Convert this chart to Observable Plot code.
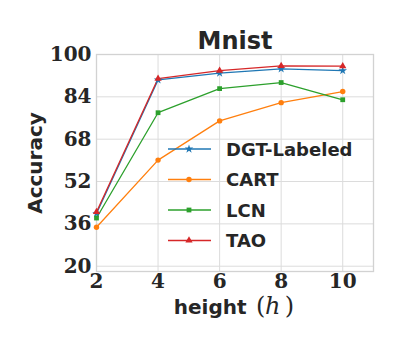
<!DOCTYPE html>
<html><head><meta charset="utf-8">
<script src="https://cdn.jsdelivr.net/npm/d3@7"></script>
<script src="https://cdn.jsdelivr.net/npm/@observablehq/plot@0.6"></script>
<style>
body{margin:0;background:#fff}
#chart{width:400px;height:350px}
</style>
</head><body><div id="chart"></div>
<script>
const heights = [2, 4, 6, 8, 10];
const seriesNames = ["DGT-Labeled", "CART", "LCN", "TAO"];
const dgt  = [39.9, 90.4, 93.0, 94.6, 93.9];
const cart = [34.7, 60.1, 74.9, 81.8, 86.0];
const lcn  = [38.2, 78.0, 87.1, 89.4, 82.9];
const tao  = [40.5, 90.9, 93.9, 95.7, 95.6];
const xTicks = [2, 4, 6, 8, 10];
const yTicks = [20, 36, 52, 68, 84, 100];
const colors = ["#1f77b4", "#ff7f0e", "#2ca02c", "#d62728"];
const symbols = ["star", "circle", "square", "triangle"];
const title = "Mnist";
const yLabel = "Accuracy";
const xLabelWord = "height";
const xLabelVar = "h";

const values = [dgt, cart, lcn, tao];
const data = seriesNames.flatMap((s, i) => heights.map((h, j) => ({series: s, h, acc: values[i][j]})));

const serif = "'DejaVu Serif', 'Liberation Serif', serif";
const sans = "'DejaVu Sans', sans-serif";
const ink = "#262626";

const plot = Plot.plot({
  width: 400, height: 350,
  marginLeft: 96, marginRight: 27, marginTop: 54, marginBottom: 79,
  style: {background: "#fff", color: ink, overflow: "visible"},
  x: {domain: [2, 11], label: null},
  y: {domain: [18, 100], label: null},
  color: {domain: seriesNames, range: colors},
  symbol: {domain: seriesNames, range: symbols},
  marks: [
    Plot.gridX(xTicks, {stroke: "#dcdcdc", strokeOpacity: 1, strokeWidth: 1}),
    Plot.gridY(yTicks, {stroke: "#dcdcdc", strokeOpacity: 1, strokeWidth: 1}),
    Plot.frame({stroke: "#d2d2d2", strokeWidth: 1.3}),
    Plot.axisX(xTicks, {tickSize: 0, tickPadding: 2, fontFamily: serif, fontSize: 20, fontWeight: "bold", fill: ink, label: null}),
    Plot.axisY(yTicks, {tickSize: 0, tickPadding: 5, fontFamily: serif, fontSize: 20, fontWeight: "bold", fill: ink, label: null}),
    Plot.line(data, {x: "h", y: "acc", z: "series", stroke: "series", strokeWidth: 1.3}),
    Plot.dot(data, {x: "h", y: "acc", fill: "series", symbol: "series", r: 2.7, stroke: "none"}),
    Plot.text([title], {frameAnchor: "top", dy: -6, lineAnchor: "bottom", fontFamily: sans, fontSize: 24, fontWeight: "bold", fill: ink}),
    Plot.text([yLabel], {frameAnchor: "left", dx: -61, rotate: -90, textAnchor: "middle", lineAnchor: "middle", fontFamily: sans, fontSize: 20, fontWeight: "bold", fill: ink}),
    Plot.text([xLabelWord], {frameAnchor: "bottom", dx: 11.5, dy: 42, textAnchor: "end", lineAnchor: "bottom", fontFamily: sans, fontSize: 20, fontWeight: "bold", fill: ink}),
    Plot.text(["("], {frameAnchor: "bottom", dx: 21, dy: 42, textAnchor: "start", lineAnchor: "bottom", fontFamily: serif, fontSize: 24, fill: ink}),
    Plot.text([xLabelVar], {frameAnchor: "bottom", dx: 30, dy: 42, textAnchor: "start", lineAnchor: "bottom", fontFamily: serif, fontSize: 24, fontStyle: "italic", fill: ink}),
    Plot.text([")"], {frameAnchor: "bottom", dx: 59, dy: 42, textAnchor: "end", lineAnchor: "bottom", fontFamily: serif, fontSize: 24, fill: ink})
  ]
});
document.getElementById("chart").append(plot);

// legend inside the plot area
const svg = d3.select(plot);
const symMap = {star: d3.symbolStar, circle: d3.symbolCircle, square: d3.symbolSquare, triangle: d3.symbolTriangle};
const leg = svg.append("g").attr("class", "legend").attr("text-anchor", "start");
const rowY0 = 149, rowStep = 30.5;
seriesNames.forEach((s, i) => {
  const y = rowY0 + i * rowStep;
  const g = leg.append("g");
  g.append("line").attr("x1", 168).attr("x2", 211).attr("y1", y).attr("y2", y)
    .attr("stroke", colors[i]).attr("stroke-width", 1.3);
  g.append("path").attr("transform", `translate(189,${y})`)
    .attr("d", d3.symbol(symMap[symbols[i]], Math.PI * 2.7 * 2.7)())
    .attr("fill", colors[i]);
  g.append("text").attr("x", 226).attr("y", y + 6.5).attr("text-anchor", "start")
    .attr("font-family", sans).attr("font-size", 18).attr("font-weight", "bold")
    .attr("fill", ink).text(s);
});
</script>
</body></html>
